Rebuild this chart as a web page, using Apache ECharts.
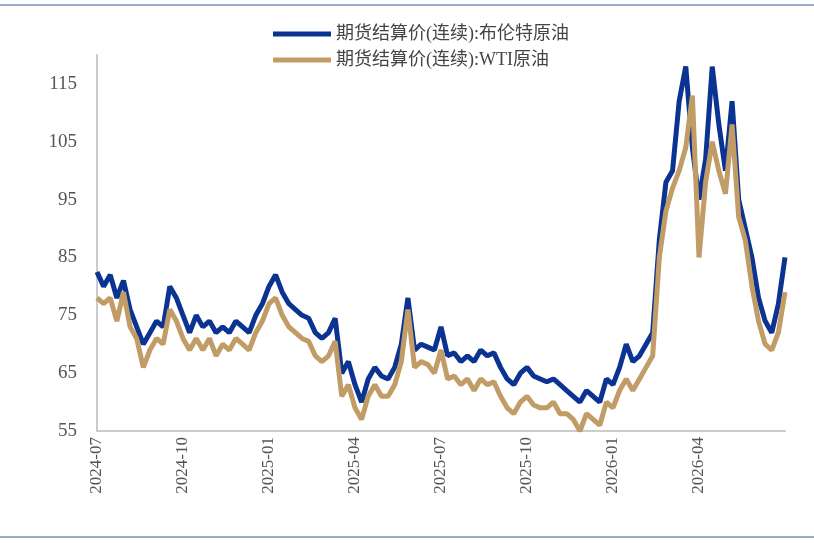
<!DOCTYPE html>
<html><head><meta charset="utf-8">
<script src="https://cdn.jsdelivr.net/npm/echarts@6/dist/echarts.min.js"></script>
<style>html,body{margin:0;background:#fff}#c{width:814px;height:543px}</style>
</head><body><div id="c"></div>
<script>
// 季度刻度标签（每13周一个）
const tickLabels = ['2024-07','2024-10','2025-01','2025-04','2025-07','2025-10','2026-01','2026-04'];

// 周度结算价
const brent = [82.5,80,82,78,81,76,73,70,72,74,73,80,78,75,
  72,75,73,74,72,73,72,74,73,72,75,77,80,
  82,79,77,76,75,74.5,72,71,72,74.5,65,67,63,60,64,66,64.5,64,66,70,78,69,70,69.5,69,73,68,68.5,67,68,67,69,68,68.5,66,64,63,65,66,64.5,64,63.5,64,63,62,61,60,62,61,60,64,63,66,70,67,68,70,
  72,88,98,100,112,118,104,95,102,118,108,100,112,95,90,85,78,74,72,77,85];
const wti = [78,77,78,74,79,73,71,66,69,71,70,76,74,71,
  69,71,69,71,68,70,69,71,70,69,72,74,77,
  78,75,73,72,71,70.5,68,67,68,70.5,61,63,59,57,61,63,61,61,63,67,76,66,67,66.5,65,69,64,64.5,63,64,62,64,63,63.5,61,59,58,60,61,59.5,59,59,60,58,58,57,55,58,57,56,60,59,62,64,62,64,66,
  68,85,93,97,100,104,113,85,98,105,100,96,108,92,88,80,74,70,69,72,79];

const weeks = brent.map((_, i) => i);
const font = '"Liberation Serif", "Noto Sans CJK SC", serif';

const chart = echarts.init(document.getElementById('c'));
chart.setOption({
  animation: false,
  grid: {left: 97, right: 29, top: 55, bottom: 112},
  legend: {
    orient: 'vertical', left: 268, top: 20, itemGap: 8,
    itemWidth: 58, itemHeight: 5, icon: 'rect',
    textStyle: {fontSize: 18, color: '#444', fontFamily: font}
  },
  xAxis: {
    type: 'category', data: weeks, boundaryGap: false,
    axisLine: {lineStyle: {color: '#ccc', width: 2}},
    axisTick: {show: false},
    axisLabel: {
      interval: i => i % 13 === 0 && i / 13 < tickLabels.length,
      formatter: (v, i) => tickLabels[i / 13] || '',
      rotate: 90, fontSize: 17, color: '#555', margin: 6, fontFamily: font
    }
  },
  yAxis: {
    type: 'value', min: 55, max: 120, interval: 10,
    axisLine: {show: true, lineStyle: {color: '#ccc', width: 2}},
    axisTick: {show: false}, splitLine: {show: false},
    axisLabel: {formatter: v => v > 115 ? '' : v, fontSize: 19, color: '#555', margin: 20, fontFamily: font}
  },
  series: [
    {name: '期货结算价(连续):布伦特原油', type: 'line', data: brent, showSymbol: false,
     itemStyle: {color: '#0b3391'}, lineStyle: {width: 5, color: '#0b3391'}},
    {name: '期货结算价(连续):WTI原油', type: 'line', data: wti, showSymbol: false,
     itemStyle: {color: '#c19c66'}, lineStyle: {width: 5, color: '#c19c66'}}
  ],
  graphic: [
    {type: 'line', shape: {x1: 0, y1: 5, x2: 814, y2: 5}, style: {stroke: '#9aabc8', lineWidth: 2}},
    {type: 'line', shape: {x1: 0, y1: 537, x2: 814, y2: 537}, style: {stroke: '#9aabc8', lineWidth: 2}}
  ]
});
</script></body></html>
